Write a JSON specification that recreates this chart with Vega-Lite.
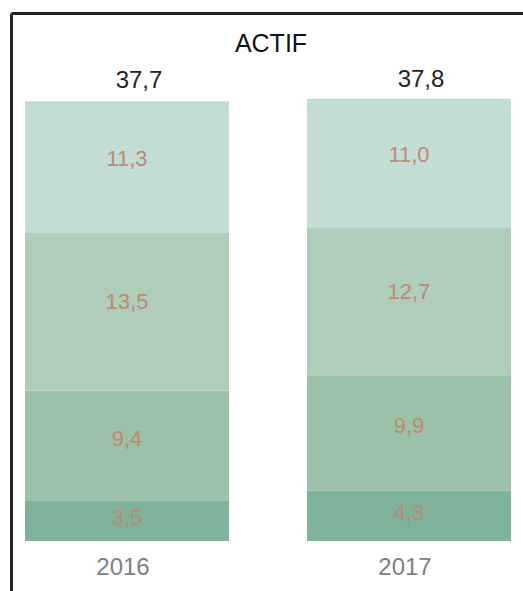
{
  "$schema": "https://vega.github.io/schema/vega-lite/v6.json",
  "width": 514,
  "height": 578,
  "autosize": "none",
  "padding": {"left": 11, "top": 13, "right": 0, "bottom": 0},
  "config": {
    "view": {"stroke": null},
    "font": "Liberation Sans",
    "locale": {"number": {"decimal": ",", "thousands": " ", "grouping": [3], "currency": ["", " €"]}}
  },
  "title": {
    "text": "(au 31 décembre)",
    "anchor": "start",
    "frame": "group",
    "fontSize": 18,
    "fontWeight": "normal",
    "color": "#ece4da",
    "baseline": "alphabetic",
    "offset": 11,
    "dx": 11
  },
  "datasets": {
    "segments": [
      {"year": "2016", "segment": "s1", "value": 3.5},
      {"year": "2016", "segment": "s2", "value": 9.4},
      {"year": "2016", "segment": "s3", "value": 13.5},
      {"year": "2016", "segment": "s4", "value": 11.3},
      {"year": "2017", "segment": "s1", "value": 4.3},
      {"year": "2017", "segment": "s2", "value": 9.9},
      {"year": "2017", "segment": "s3", "value": 12.7},
      {"year": "2017", "segment": "s4", "value": 11.0}
    ],
    "totals": [
      {"year": "2016", "total": 37.7},
      {"year": "2017", "total": 37.8}
    ],
    "heading": [{"label": "ACTIF"}]
  },
  "layer": [
    {
      "data": {"name": "segments"},
      "mark": {"type": "bar"},
      "encoding": {
        "x": {
          "field": "year", "type": "nominal", "title": null,
          "scale": {"paddingInner": 0.2766, "paddingOuter": 0.0496},
          "axis": {"orient": "top", "domain": true, "domainColor": "#222222", "domainWidth": 3, "labels": false, "ticks": false, "grid": false, "title": null}
        },
        "y": {
          "field": "value", "type": "quantitative", "stack": "zero", "title": null,
          "scale": {"domain": [-4.286, 45.257], "nice": false, "zero": false},
          "axis": {"domain": true, "domainColor": "#222222", "domainWidth": 3, "labels": false, "ticks": false, "grid": false, "title": null}
        },
        "color": {
          "field": "segment", "type": "nominal", "legend": null,
          "scale": {"domain": ["s1", "s2", "s3", "s4"], "range": ["#7fb29a", "#9bc2a8", "#afcdb9", "#c3ddd4"]}
        },
        "order": {"field": "segment", "type": "nominal", "sort": "ascending"}
      }
    },
    {
      "data": {"name": "segments"},
      "mark": {"type": "text", "fontSize": 22, "color": "#bd8a73"},
      "encoding": {
        "x": {"field": "year", "type": "nominal", "title": null},
        "y": {"field": "value", "type": "quantitative", "stack": "zero", "bandPosition": 0.56, "title": null},
        "detail": {"field": "segment", "type": "nominal"},
        "order": {"field": "segment", "type": "nominal", "sort": "ascending"},
        "text": {"field": "value", "type": "quantitative", "format": ".1f"}
      }
    },
    {
      "data": {"name": "totals"},
      "mark": {"type": "text", "fontSize": 24, "color": "#222222", "dy": -20, "dx": 12},
      "encoding": {
        "x": {"field": "year", "type": "nominal", "title": null},
        "y": {"field": "total", "type": "quantitative", "title": null},
        "text": {"field": "total", "type": "quantitative", "format": ".1f"}
      }
    },
    {
      "data": {"name": "totals"},
      "mark": {"type": "text", "fontSize": 24, "color": "#808080", "dx": -4},
      "encoding": {
        "x": {"field": "year", "type": "nominal", "title": null},
        "y": {"datum": -2.3, "type": "quantitative", "title": null},
        "text": {"field": "year", "type": "nominal"}
      }
    },
    {
      "data": {"name": "heading"},
      "mark": {"type": "text", "fontSize": 25, "color": "#111111", "dx": 3},
      "encoding": {
        "y": {"datum": 42.6, "type": "quantitative", "title": null},
        "text": {"field": "label", "type": "nominal"}
      }
    }
  ]
}
